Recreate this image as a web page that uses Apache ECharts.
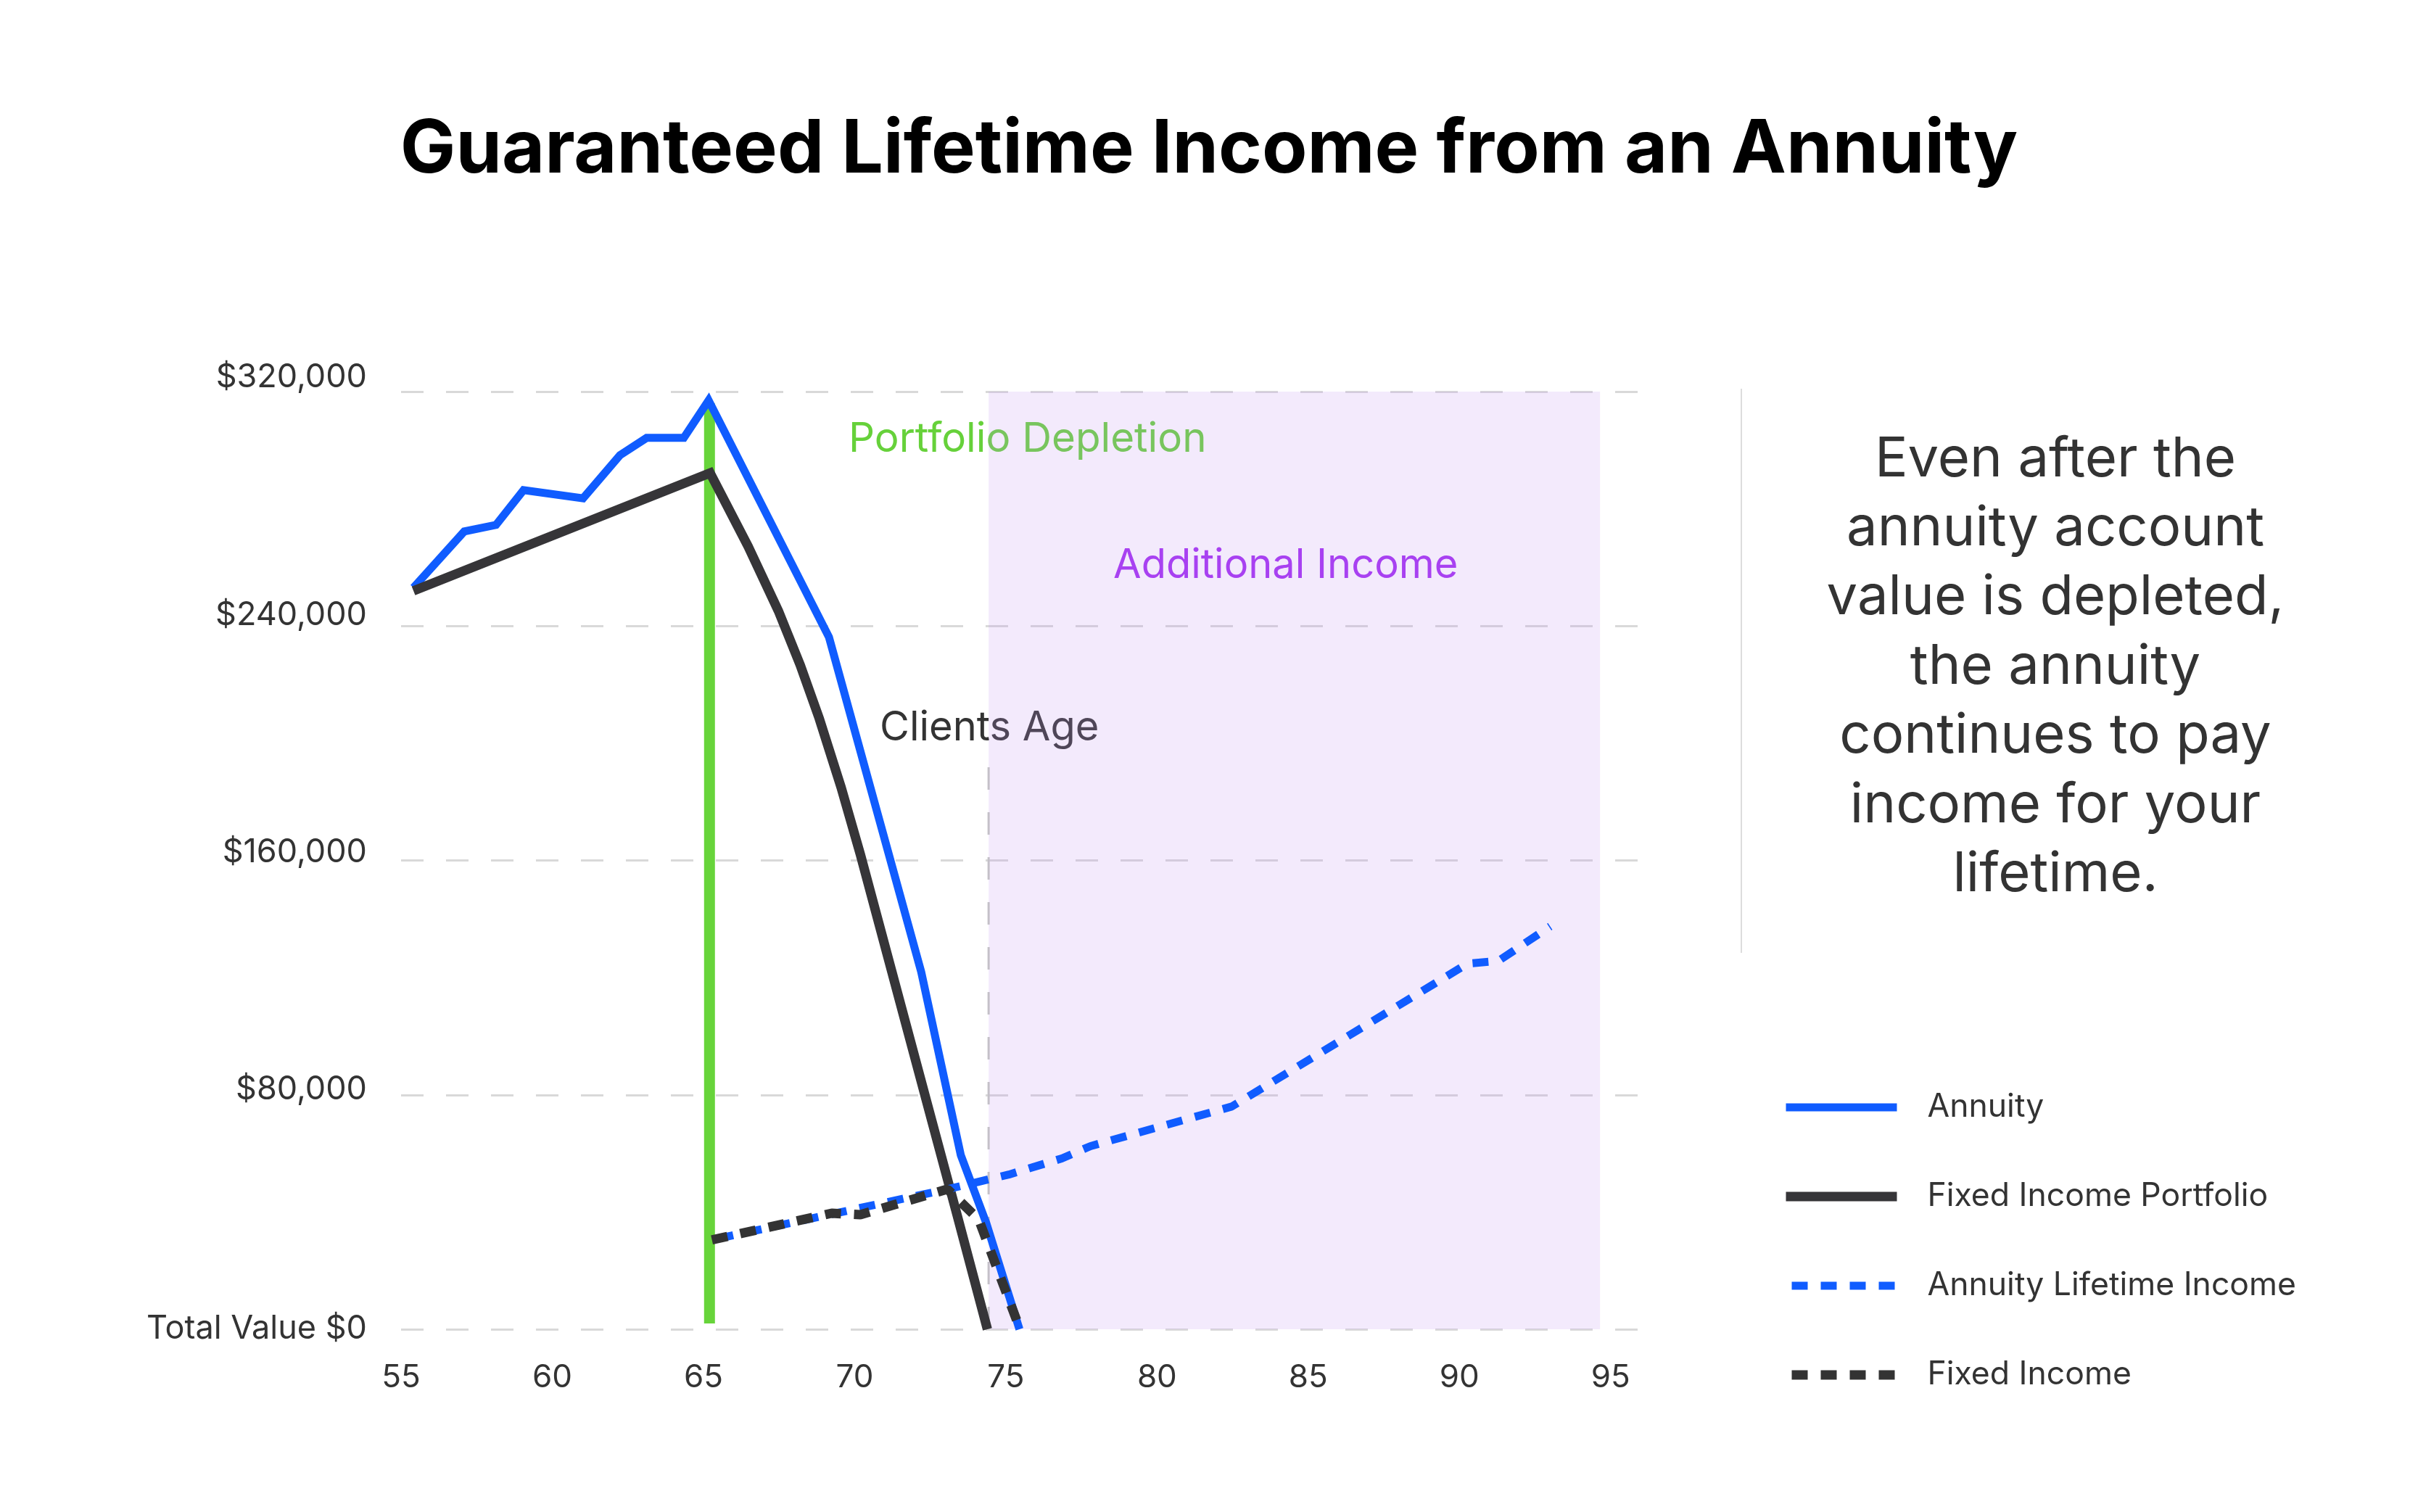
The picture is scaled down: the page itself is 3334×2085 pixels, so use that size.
<!DOCTYPE html>
<html>
<head>
<meta charset="utf-8">
<script src="https://cdn.jsdelivr.net/npm/echarts@6/dist/echarts.min.js"></script>
<style>
html,body{margin:0;padding:0;background:#fff;}
#chart{width:3334px;height:2085px;}
</style>
</head>
<body>
<div id="chart"></div>
<script>
// ---- Data ----
const xTickLabels = [55, 60, 65, 70, 75, 80, 85, 90, 95];
const yTickLabels = ['Total Value $0', '$80,000', '$160,000', '$240,000', '$320,000'];

const annuityAges   = [55.41, 57.09, 58.14, 59.05, 61.02, 62.24, 63.12, 64.35, 65.17, 69.15, 72.2, 73.51, 74.35, 75.45];
const annuityValues = [253100, 272300, 274500, 286400, 283600, 298300, 304200, 304200, 317000, 236200, 122000, 59400, 36300, 0];

const fixedPortfolioAges   = [55.41, 65.22, 66.48, 67.48, 68.2, 68.83, 69.55, 70.19, 71.23, 71.95, 72.75, 73.39, 74.39];
const fixedPortfolioValues = [252000, 292200, 267100, 245100, 226700, 208400, 185000, 162000, 122000, 94300, 63500, 38900, 0];

const lifetimeIncomeAges   = [65.28, 73.07, 75.1, 76.85, 77.8, 82.47, 90.27, 91.29, 93.0];
const lifetimeIncomeValues = [30500, 47800, 52800, 58300, 62500, 76000, 124800, 125700, 137500];

const fixedIncomeAges   = [65.28, 69.24, 70.19, 73.07, 74.1, 75.47];
const fixedIncomeValues = [30500, 39600, 39100, 47800, 37500, 0];

const depletionAge = 65.2;
const depletionRange = [2000, 316000];
const additionalIncomeRange = [74.43, 94.65];
const clientsAgeMarkerTop = 195000;

const paragraphLines = ['Even after the', 'annuity account', 'value is depleted,', 'the annuity', 'continues to pay', 'income for your', 'lifetime.'];

// ---- Build chart ----
const pairs = (xs, ys) => xs.map((x, i) => [x, ys[i]]);
const FONT = 'Inter, "Noto Sans", sans-serif';
const chart = echarts.init(document.getElementById('chart'), null, {width: 3334, height: 2085});

const yOffsets = {0: 1, 80000: 7, 160000: 11, 240000: 15, 320000: 20};
const rich = {};
Object.keys(yOffsets).forEach(k => {
  rich['y' + k] = {fontFamily: FONT, fontSize: 45, color: '#333333', padding: [0, 0, yOffsets[k] * 2, 0]};
});

const option = {
  backgroundColor: '#ffffff',
  animation: false,
  textStyle: {fontFamily: FONT},
  grid: {left: 553, right: 1059, top: 540, bottom: 252, containLabel: false},
  xAxis: {
    type: 'value', min: 55, max: 96.3, interval: 5,
    axisLine: {show: false}, axisTick: {show: false}, splitLine: {show: false},
    axisLabel: {
      fontFamily: FONT, fontSize: 44, color: '#333333', margin: 45,
      formatter: v => (xTickLabels.indexOf(v) >= 0 ? String(v) : '')
    }
  },
  yAxis: {
    type: 'value', min: 0, max: 320000, interval: 80000,
    axisLine: {show: false}, axisTick: {show: false},
    splitLine: {show: true, lineStyle: {color: '#d9d9d9', width: 3, type: [31, 31]}},
    axisLabel: {
      margin: 47, rich: rich,
      formatter: v => '{y' + v + '|' + yTickLabels[Math.round(v / 80000)] + '}'
    }
  },
  legend: {
    orient: 'vertical', left: 2456, top: 1502,
    data: ['Annuity', 'Fixed Income Portfolio', 'Annuity Lifetime Income', 'Fixed Income'],
    itemWidth: 153, itemHeight: 12, itemGap: 73, padding: 0,
    itemStyle: {opacity: 0},
    lineStyle: {width: 'inherit', type: 'inherit', cap: 'butt'},
    textStyle: {fontFamily: FONT, fontSize: 44.5, color: '#333333', lineHeight: 50, padding: [0, 0, 0, 37]}
  },
  series: [
    {
      name: 'Depletion', type: 'line', silent: true, z: 2,
      symbol: 'none', data: [[depletionAge, depletionRange[0]], [depletionAge, depletionRange[1]]],
      lineStyle: {color: '#67d43a', width: 15, cap: 'butt'}
    },
    {
      name: 'ClientsAgeMarker', type: 'line', silent: true, z: 2,
      symbol: 'none', data: [[additionalIncomeRange[0], 0], [additionalIncomeRange[0], clientsAgeMarkerTop]],
      lineStyle: {color: '#c4c0c8', width: 3, type: [31, 31]},
      markArea: {
        silent: true,
        itemStyle: {color: 'rgba(196, 150, 238, 0.2)'},
        data: [[{xAxis: additionalIncomeRange[0], yAxis: 0}, {xAxis: additionalIncomeRange[1], yAxis: 320000}]]
      }
    },
    {
      name: 'Annuity', type: 'line', z: 3, symbol: 'none',
      data: pairs(annuityAges, annuityValues),
      lineStyle: {color: '#105cff', width: 11, join: 'miter', cap: 'butt'},
      itemStyle: {color: '#105cff'}
    },
    {
      name: 'Fixed Income Portfolio', type: 'line', z: 4, symbol: 'none',
      data: pairs(fixedPortfolioAges, fixedPortfolioValues),
      lineStyle: {color: '#363538', width: 13, join: 'miter', cap: 'butt'},
      itemStyle: {color: '#363538'}
    },
    {
      name: 'Annuity Lifetime Income', type: 'line', z: 5, symbol: 'none',
      data: pairs(lifetimeIncomeAges, lifetimeIncomeValues),
      lineStyle: {color: '#105cff', width: 11, type: [22, 18], dashOffset: 32, cap: 'butt'},
      itemStyle: {color: '#105cff'}
    },
    {
      name: 'Fixed Income', type: 'line', z: 6, symbol: 'none',
      data: pairs(fixedIncomeAges, fixedIncomeValues),
      lineStyle: {color: '#333333', width: 13, type: [22, 18], cap: 'butt'},
      itemStyle: {color: '#333333'}
    }
  ],
  graphic: [
    {type: 'text', left: 'center', top: 156, style: {text: 'Guaranteed Lifetime Income from an Annuity', font: '700 102px ' + FONT, fill: '#000000'}},
    {type: 'text', x: 1170, y: 606, style: {text: 'Portfolio Depletion', font: '56.5px ' + FONT, fill: '#66d13a', textVerticalAlign: 'middle'}},
    {type: 'text', x: 1535, y: 780, style: {text: 'Additional Income', font: '56px ' + FONT, fill: '#a22cf2', textVerticalAlign: 'middle'}},
    {type: 'text', x: 1213, y: 1004, style: {text: 'Clients Age', font: '56px ' + FONT, fill: '#333333', textVerticalAlign: 'middle'}},
    {type: 'line', shape: {x1: 2401, y1: 536, x2: 2401, y2: 1314}, style: {stroke: '#dddddd', lineWidth: 2}},
    {type: 'text', x: 2834, y: 586, style: {text: paragraphLines.join('\n'), font: '76px ' + FONT, lineHeight: 95.4, fill: '#333333', textAlign: 'center', textVerticalAlign: 'top'}}
  ]
};
chart.setOption(option);
</script>
</body>
</html>
